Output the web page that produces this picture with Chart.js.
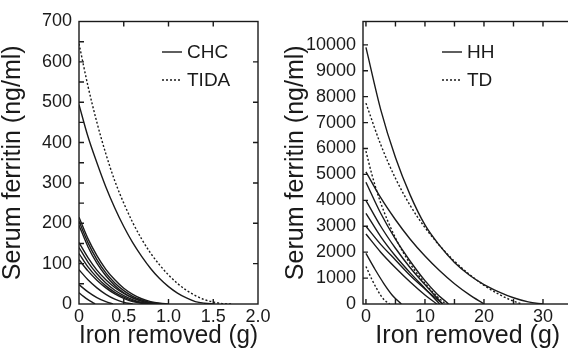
<!DOCTYPE html>
<html><head><meta charset="utf-8">
<script src="https://cdn.jsdelivr.net/npm/chart.js@4.4.0/dist/chart.umd.min.js"></script>
<style>
html,body{margin:0;padding:0;background:#fff;overflow:hidden;width:568px;height:354px;}
#c1{position:absolute;left:0;top:0;}
#c2{position:absolute;left:284px;top:0;}
</style></head><body>
<canvas id="c1" width="284" height="354"></canvas>
<canvas id="c2" width="330" height="354"></canvas>
<script>
// ---------- Left panel: CHC (solid) and TIDA (dotted) ----------
const chc1 = [[0,494],[0.1,415],[0.2,350],[0.3,290],[0.4,238],[0.5,192],[0.6,152],[0.7,118],[0.8,88],[0.9,63],[1.0,43],[1.1,27],[1.2,15],[1.3,6],[1.4,2],[1.52,0]];
const chc2 = [[0,215],[0.1,162],[0.2,120],[0.3,86],[0.4,60],[0.5,39],[0.6,24],[0.7,13],[0.8,6],[0.9,2],[1.0,0]];
const chc3 = [[0,205],[0.1,152],[0.2,110],[0.3,77],[0.4,52],[0.5,33],[0.6,19],[0.7,10],[0.8,4],[0.95,0]];
const chc4 = [[0,195],[0.1,142],[0.2,101],[0.3,70],[0.4,46],[0.5,28],[0.6,15],[0.7,7],[0.8,2],[0.9,0]];
const chc5 = [[0,152],[0.1,115],[0.2,84],[0.3,60],[0.4,41],[0.5,26],[0.6,15],[0.7,7],[0.8,2],[0.92,0]];
const chc6 = [[0,140],[0.1,104],[0.2,75],[0.3,52],[0.4,34],[0.5,21],[0.6,11],[0.7,4],[0.85,0]];
const chc7 = [[0,125],[0.1,92],[0.2,66],[0.3,45],[0.4,29],[0.5,17],[0.6,8],[0.7,3],[0.82,0]];
const chc8 = [[0,110],[0.1,82],[0.2,59],[0.3,40],[0.4,25],[0.5,14],[0.6,6],[0.7,2],[0.8,0]];
const chc9 = [[0,85],[0.1,60],[0.2,40],[0.3,24],[0.4,12],[0.5,4],[0.6,0]];
const chc10 = [[0,48],[0.1,30],[0.2,16],[0.3,6],[0.38,0]];
const chc11 = [[0,28],[0.05,19],[0.1,11],[0.15,4],[0.18,0]];
const tida1 = [[0,645],[0.1,540],[0.2,450],[0.3,372],[0.4,305],[0.5,250],[0.6,202],[0.7,161],[0.8,126],[0.9,97],[1.0,72],[1.1,51],[1.2,34],[1.3,21],[1.4,11],[1.5,5],[1.6,1],[1.7,0]];
const chcCurves = [chc1,chc2,chc3,chc4,chc5,chc6,chc7,chc8,chc9,chc10,chc11];
const tidaCurves = [tida1];
const leftLegend = ['CHC','TIDA'];
const leftXTicks = [0,0.5,1,1.5,2];
const leftYTicks = [0,50,100,150,200,250,300,350,400,450,500,550,600,650,700];

// ---------- Right panel: HH (solid) and TD (dotted) ----------
const hh1 = [[0,9900],[2.5,7500],[5,5650],[7.5,4200],[10,3050],[12.5,2250],[15,1600],[17.5,1120],[20,750],[22.5,470],[25,240],[27.5,80],[30,0]];
const hh2 = [[0,5100],[2.5,4100],[5,3250],[7.5,2500],[10,1850],[12.5,1280],[15,780],[17.5,360],[20,0]];
const hh3 = [[0,4700],[2.5,3500],[5,2500],[7.5,1650],[10,900],[12,400],[14,0]];
const hh4 = [[0,4000],[2.5,3000],[5,2150],[7.5,1400],[10,750],[12,250],[13,0]];
const hh5 = [[0,3500],[2.5,2600],[5,1850],[7.5,1200],[10,600],[12.5,0]];
const hh6 = [[0,3000],[2.5,2300],[5,1700],[7.5,1100],[10,580],[13,0]];
const hh7 = [[0,2700],[2.5,2000],[5,1400],[7.5,850],[10,350],[12,0]];
const hh8 = [[0,1950],[1.5,1350],[3,800],[4.5,330],[6,0]];
const td1 = [[0,7750],[2.5,6150],[5,4850],[7.5,3800],[10,2950],[12.5,2250],[15,1650],[17.5,1150],[20,720],[22.5,380],[25,110],[26.5,0]];
const td2 = [[0,5900],[1,5000],[2.5,3900],[5,2550],[7.5,1550],[10,800],[12,300],[13.5,0]];
const td3 = [[0,1450],[1,950],[2,520],[3,180],[4,0]];
const hhCurves = [hh1,hh2,hh3,hh4,hh5,hh6,hh7,hh8];
const tdCurves = [td1,td2,td3];
const rightLegend = ['HH','TD'];
const rightXTicks = [0,5,10,15,20,25,30,35];
const rightYTicks = [0,1000,2000,3000,4000,5000,6000,7000,8000,9000,10000];

const xTitle = 'Iron removed (g)';
const yTitle = 'Serum ferritin (ng/ml)';

// ---------- rendering ----------
const FONT = "'Liberation Sans', Arial, Helvetica, sans-serif";
const INK = '#1a1a1a';
const DOT = [2, 2];

function near(v, step){ const r = v/step; return Math.abs(r - Math.round(r)) < 1e-6; }

const frameTicks = {
  id: 'frameTicks',
  afterDraw(chart, args, o) {
    const {ctx, chartArea: a} = chart;
    const x = chart.scales.x, y = chart.scales.y;
    ctx.save();
    ctx.setLineDash([]);
    ctx.strokeStyle = INK; ctx.lineWidth = 1.4;
    ctx.strokeRect(a.left, a.top, a.right - a.left, a.bottom - a.top);
    const L = 5;
    ctx.beginPath();
    x.ticks.forEach(t => {
      if (t.value <= x.min || t.value >= x.max) return;
      const p = x.getPixelForValue(t.value);
      ctx.moveTo(p, a.bottom); ctx.lineTo(p, a.bottom - L);
      ctx.moveTo(p, a.top); ctx.lineTo(p, a.top + L);
    });
    y.ticks.forEach(t => {
      if (t.value <= y.min || t.value >= y.max) return;
      const p = y.getPixelForValue(t.value);
      ctx.moveTo(a.left, p); ctx.lineTo(a.left + L, p);
      if (o.rightEvery && near(t.value, o.rightEvery)) { ctx.moveTo(a.right, p); ctx.lineTo(a.right - L, p); }
    });
    ctx.stroke();
    ctx.restore();
  }
};

const inLegend = {
  id: 'inLegend',
  afterDraw(chart, args, o) {
    const {ctx, chartArea: a} = chart;
    ctx.save();
    ctx.font = '19px ' + FONT;
    ctx.fillStyle = INK; ctx.strokeStyle = INK; ctx.lineWidth = 1.4;
    ctx.textBaseline = 'middle';
    o.labels.forEach((lab, i) => {
      const y = o.y0 + i * o.dy;
      const x0 = a.left + o.dx;
      ctx.setLineDash(i === 0 ? [] : DOT);
      ctx.beginPath(); ctx.moveTo(x0, y); ctx.lineTo(x0 + o.len, y); ctx.stroke();
      ctx.fillText(lab, x0 + o.len + o.gap, y + 1);
    });
    ctx.restore();
  }
};

function toXY(c){ return c.map(p => ({x: p[0], y: p[1]})); }
function makeSets(solid, dotted){
  const base = {showLine: true, pointRadius: 0, borderWidth: 1.4, borderColor: INK,
    backgroundColor: INK, fill: false, cubicInterpolationMode: 'monotone'};
  return solid.map(c => Object.assign({data: toXY(c)}, base))
    .concat(dotted.map(c => Object.assign({data: toXY(c), borderDash: DOT}, base)));
}

function build(id, cfg){
  new Chart(document.getElementById(id), {
    type: 'scatter',
    data: {datasets: makeSets(cfg.solid, cfg.dotted)},
    plugins: [frameTicks, inLegend],
    options: {
      responsive: false, animation: false, devicePixelRatio: 1,
      layout: {padding: {top: 21.5, right: cfg.padRight, left: 0, bottom: 0}},
      plugins: {
        legend: {display: false}, tooltip: {enabled: false},
        frameTicks: {rightEvery: cfg.yRight},
        inLegend: {labels: cfg.legend, dx: cfg.legDx, y0: 52, dy: 28, len: 20, gap: 5}
      },
      scales: {
        x: {
          type: 'linear', min: cfg.xMin, max: cfg.xMax,
          grid: {display: false, drawTicks: false}, border: {display: false},
          afterBuildTicks(s){ s.ticks = cfg.xTicks.map(v => ({value: v})); },
          ticks: {padding: 2, color: INK, autoSkip: false, maxRotation: 0,
            font: {size: 18, family: FONT}, callback: cfg.xLabel},
          title: {display: true, text: xTitle, color: INK, font: {size: 25, family: FONT, lineHeight: 1.2},
            padding: {top: 0, bottom: 3}},
          afterFit(s){ s.height = 50; }
        },
        y: {
          type: 'linear', min: 0, max: cfg.yMax,
          grid: {display: false, drawTicks: false}, border: {display: false},
          afterBuildTicks(s){ s.ticks = cfg.yTicks.map(v => ({value: v})); },
          ticks: {padding: 7, color: INK, autoSkip: false,
            font: {size: 18, family: FONT}, callback: cfg.yLabel},
          title: {display: true, text: yTitle, color: INK, font: {size: 25, family: FONT, lineHeight: 1},
            padding: {top: cfg.yTitlePad, bottom: 0}},
          afterFit(s){ s.width = 79; }
        }
      }
    }
  });
}

build('c1', {
  solid: chcCurves, dotted: tidaCurves, legend: leftLegend, legDx: 83,
  xMin: 0, xMax: 2, xTicks: leftXTicks, yMax: 700, yTicks: leftYTicks, yRight: 100, padRight: 26, yTitlePad: 0.5,
  xLabel: v => v === 0 ? '0' : v.toFixed(1),
  yLabel: v => near(v, 100) ? String(v) : ''
});
build('c2', {
  solid: hhCurves, dotted: tdCurves, legend: rightLegend, legDx: 79,
  xMin: -0.5, xMax: 35, xTicks: rightXTicks, yMax: 10900, yTicks: rightYTicks, yRight: 0, padRight: 41.5, yTitlePad: 0,
  xLabel: v => near(v, 10) ? String(v) : '',
  yLabel: v => String(v)
});
</script>
</body></html>
